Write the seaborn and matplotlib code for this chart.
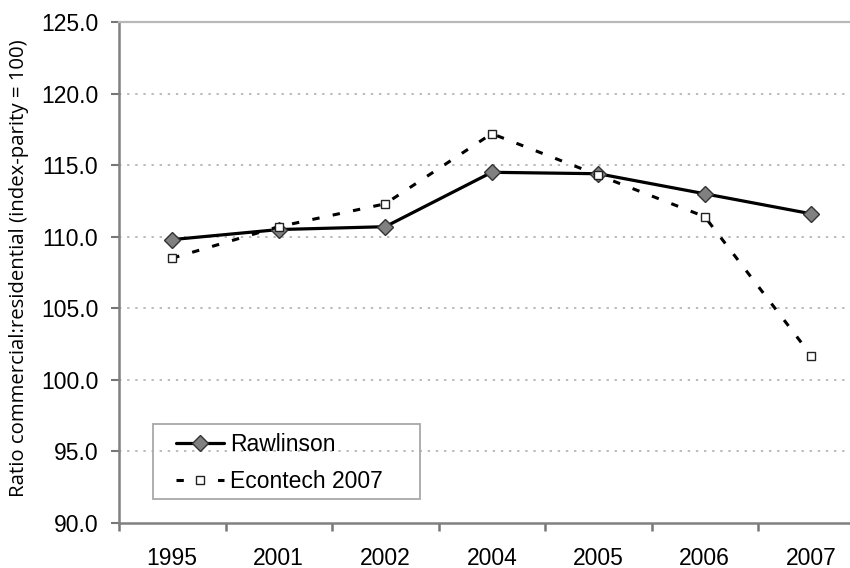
import matplotlib
matplotlib.use("Agg")
import matplotlib.pyplot as plt
from matplotlib.patches import Rectangle
import numpy as np
import pandas as pd
import seaborn as sns

years = ["1995", "2001", "2002", "2004", "2005", "2006", "2007"]
rawlinson = [109.8, 110.5, 110.7, 114.5, 114.4, 113.0, 111.6]
econtech = [108.5, 110.7, 112.3, 117.2, 114.3, 111.4, 101.7]
series_names = ["Rawlinson", "Econtech 2007"]
yticks = [90, 95, 100, 105, 110, 115, 120, 125]

sns.set_theme(style="white")
plt.rcParams['font.family'] = ['Liberation Sans', 'DejaVu Sans']

df = pd.DataFrame({
    "year": years * 2,
    "value": rawlinson + econtech,
    "series": [series_names[0]] * len(years) + [series_names[1]] * len(years),
})

W, H = 850, 568
fig = plt.figure(figsize=(W / 100, H / 100), dpi=100)
left_px, right_px, top_px, bottom_px = 119, 864.5, 22, 523
ax = fig.add_axes([left_px / W, 1 - bottom_px / H, (right_px - left_px) / W, (bottom_px - top_px) / H])

# grid
for v in yticks[1:-1]:
    ax.axhline(v, color="#b5b5b5", lw=1.3, dashes=(1.3, 3.2), zorder=0)

sns.lineplot(data=df[df.series == series_names[0]], x="year", y="value", ax=ax,
             color="black", lw=2.3, marker="D", markersize=8,
             markerfacecolor="#808080", markeredgecolor="#333333", markeredgewidth=1.0,
             label=series_names[0], zorder=3)
sns.lineplot(data=df[df.series == series_names[1]], x="year", y="value", ax=ax,
             color="black", lw=2.2, marker="s", markersize=5.5,
             markerfacecolor="white", markeredgecolor="#222222", markeredgewidth=1.0,
             dashes=False, label=series_names[1], zorder=4)
ax.lines[-1].set_dashes((2.4, 4.4))

ax.set_xlim(-0.5, 6.5)
ax.set_ylim(90, 125)
ax.set_yticks(yticks)
ax.set_yticklabels([f"{v:.1f}" for v in yticks])
ax.set_xticks(range(len(years)))
ax.set_xticklabels(years)
ax.set_xticks(np.arange(-0.5, len(years)), minor=True)
ax.tick_params(axis="x", which="major", length=0, pad=17, labelsize=16.5, labelcolor="black")
ax.tick_params(axis="x", which="minor", length=6, width=1.8, color="#777777", direction="out", bottom=True)
ax.tick_params(axis="y", which="major", length=6, width=1.5, color="#777777", direction="out",
               left=True, pad=9, labelsize=16.5, labelcolor="black")
ax.set_xlabel("")
ax.set_ylabel("Ratio commercial:residential (index-parity = 100)",
              family=["Open Sans", "DejaVu Sans"], fontsize=14.7, color="black")
ax.yaxis.set_label_coords(-0.121, 0.509)

for s in ["left", "bottom"]:
    ax.spines[s].set_color("#808080")
    ax.spines[s].set_linewidth(1.8)
ax.spines["top"].set_color("#b8b8b8")
ax.spines["top"].set_linewidth(1.6)
ax.spines["right"].set_visible(False)

leg = ax.legend(loc="upper left", bbox_to_anchor=(176 / W, 1 - 433 / H),
                bbox_transform=fig.transFigure, frameon=False, fontsize=16.5,
                handlelength=2.1, handletextpad=0.25, labelspacing=0.6, borderpad=0,
                borderaxespad=0)
for t in leg.get_texts():
    t.set_color("black")

fig.patches.append(Rectangle((153 / W, 1 - 499 / H), (420 - 153) / W, (499 - 424) / H,
                             transform=fig.transFigure, fill=False,
                             edgecolor="#a8a8a8", lw=1.3, zorder=5))

fig.savefig("out.png", dpi=100)
